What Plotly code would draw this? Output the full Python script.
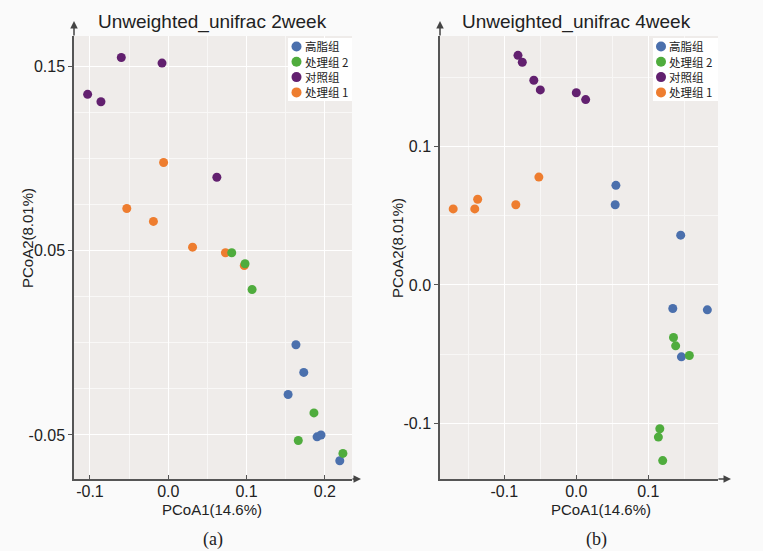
import plotly.graph_objects as go

W, H = 763, 551

# ---------------- data (2 week) ----------------
groups = ["高脂组", "处理组 2", "对照组", "处理组 1"]
colors = {"高脂组": "#4b70ad", "处理组 2": "#4fac3d", "对照组": "#62206f", "处理组 1": "#ee7d2f"}

hf2_x = [0.163, 0.173, 0.153, 0.190, 0.195, 0.219]
hf2_y = [-0.001, -0.016, -0.028, -0.051, -0.050, -0.064]
tr2_2_x = [0.081, 0.098, 0.107, 0.186, 0.166, 0.223]
tr2_2_y = [0.049, 0.043, 0.029, -0.038, -0.053, -0.060]
ctrl_2_x = [-0.060, -0.008, -0.103, -0.086, 0.062]
ctrl_2_y = [0.155, 0.152, 0.135, 0.131, 0.090]
tr1_2_x = [-0.006, -0.053, -0.019, 0.031, 0.073, 0.097]
tr1_2_y = [0.098, 0.073, 0.066, 0.052, 0.049, 0.042]

# ---------------- data (4 week) ----------------
hf4_x = [0.055, 0.054, 0.145, 0.134, 0.182, 0.146]
hf4_y = [0.072, 0.058, 0.036, -0.017, -0.018, -0.052]
tr2_4_x = [0.135, 0.138, 0.157, 0.116, 0.114, 0.120]
tr2_4_y = [-0.038, -0.044, -0.051, -0.104, -0.110, -0.127]
ctrl_4_x = [-0.081, -0.075, -0.059, -0.050, 0.000, 0.013]
ctrl_4_y = [0.166, 0.161, 0.148, 0.141, 0.139, 0.134]
tr1_4_x = [-0.052, -0.137, -0.141, -0.171, -0.084]
tr1_4_y = [0.078, 0.062, 0.055, 0.055, 0.058]

titles = ["Unweighted_unifrac 2week", "Unweighted_unifrac 4week"]
xlabel = "PCoA1(14.6%)"
ylabel = "PCoA2(8.01%)"
captions = ["(a)", "(b)"]

left_xticks = [-0.1, 0.0, 0.1, 0.2]
left_yticks = [-0.05, 0.05, 0.15]
right_xticks = [-0.1, 0.0, 0.1, 0.2]
right_yticks = [-0.1, 0.0, 0.1]

panel2 = {
    "处理组 1": (tr1_2_x, tr1_2_y),
    "对照组": (ctrl_2_x, ctrl_2_y),
    "高脂组": (hf2_x, hf2_y),
    "处理组 2": (tr2_2_x, tr2_2_y),
}
panel4 = {
    "处理组 1": (tr1_4_x, tr1_4_y),
    "对照组": (ctrl_4_x, ctrl_4_y),
    "高脂组": (hf4_x, hf4_y),
    "处理组 2": (tr2_4_x, tr2_4_y),
}

FONT = "Liberation Sans, Arial, sans-serif"
CJK = "Noto Sans CJK SC, sans-serif"

fig = go.Figure()
for name, (xs, ys) in panel2.items():
    fig.add_trace(go.Scatter(x=xs, y=ys, mode="markers", name=name, showlegend=False,
                             marker=dict(size=9, color=colors[name]), xaxis="x", yaxis="y"))
for name, (xs, ys) in panel4.items():
    fig.add_trace(go.Scatter(x=xs, y=ys, mode="markers", name=name, showlegend=False,
                             marker=dict(size=9, color=colors[name]), xaxis="x2", yaxis="y2"))

def px(x):
    return x / W

def py(y):
    return 1 - y / H

ydom = [py(479), py(36)]
axis_common = dict(showline=True, linecolor="#555555", linewidth=1.5,
                   ticklen=4, tickcolor="#555555", gridcolor="#ffffff", gridwidth=1.3,
                   zeroline=False, tickfont=dict(family=FONT, size=16, color="#222222"),
                   fixedrange=True)

fig.update_layout(
    width=W, height=H, autosize=False,
    margin=dict(l=0, r=0, t=0, b=0),
    paper_bgcolor="#fafafa", plot_bgcolor="#efecea",
    xaxis=dict(domain=[px(74), px(352)], range=[-0.1204, 0.2346], anchor="y", ticks="inside",
               tickvals=left_xticks, ticktext=["-0.1", "0.0", "0.1", "0.2"], ticklabelstandoff=-3,
               minor=dict(tickvals=[-0.05, 0.05, 0.15], showgrid=True, gridcolor="#f8f7f6",
                          gridwidth=1, ticks=""),
               **axis_common),
    yaxis=dict(domain=ydom, range=[-0.0739, 0.1667], anchor="x", ticks="outside",
               tickvals=left_yticks, ticktext=["-0.05", "0.05", "0.15"],
               minor=dict(tickvals=[-0.025, 0.0, 0.025, 0.075, 0.1, 0.125], showgrid=True,
                          gridcolor="#f9f8f7", gridwidth=1, ticks=""),
               **axis_common),
    xaxis2=dict(domain=[px(440), px(718)], range=[-0.1893, 0.1968], anchor="y2", ticks="inside",
                tickvals=right_xticks, ticktext=["-0.1", "0.0", "0.1", "0.2"], ticklabelstandoff=-3,
                minor=dict(tickvals=[-0.15, -0.05, 0.05, 0.15], showgrid=True, gridcolor="#f8f7f6",
                           gridwidth=1, ticks=""),
                **axis_common),
    yaxis2=dict(domain=ydom, range=[-0.1403, 0.180], anchor="x2", ticks="outside",
                tickvals=right_yticks, ticktext=["-0.1", "0.0", "0.1"],
                minor=dict(tickvals=[-0.05, 0.05, 0.15], showgrid=True, gridcolor="#f8f7f6",
                           gridwidth=1, ticks=""),
                **axis_common),
)

ann = []
shapes = []
# titles
for t, cx in zip(titles, [212, 576]):
    ann.append(dict(text=t, x=px(cx), y=py(22), xref="paper", yref="paper", showarrow=False,
                    xanchor="center", yanchor="middle", font=dict(family=FONT, size=19, color="#222222")))
# x axis titles
for cx in [212, 601]:
    ann.append(dict(text=xlabel, x=px(cx), y=py(510), xref="paper", yref="paper", showarrow=False,
                    xanchor="center", yanchor="middle", font=dict(family=FONT, size=15, color="#222222")))
# y axis titles
for cx, cy in [(27, 238), (397, 248)]:
    ann.append(dict(text=ylabel, x=px(cx), y=py(cy), xref="paper", yref="paper", showarrow=False,
                    textangle=-90, xanchor="center", yanchor="middle",
                    font=dict(family=FONT, size=15, color="#222222")))
# captions
for c, cx in zip(captions, [213, 596]):
    ann.append(dict(text=c, x=px(cx), y=py(539), xref="paper", yref="paper", showarrow=False,
                    xanchor="center", yanchor="middle",
                    font=dict(family="Liberation Serif, DejaVu Serif, serif", size=18, color="#222222")))
# arrows on axes
for (tx, ty, ax_, ay_) in [(74, 21, 0, 16), (361, 479, -10, 0), (440, 21, 0, 16), (731, 479, -14, 0)]:
    ann.append(dict(text="", x=px(tx), y=py(ty), xref="paper", yref="paper", showarrow=True,
                    ax=ax_, ay=ay_, arrowhead=2, arrowsize=1, arrowwidth=1.5, arrowcolor="#444444",
                    standoff=0, startstandoff=0))
# legends (one white box per panel, a dot and a label per group)
legend_order = ["高脂组", "处理组 2", "对照组", "处理组 1"]
row_y = [46.5, 61.8, 77.1, 92.4]
for (bx0, bx1, dotx, textx) in [(288, 352, 296.5, 302.5), (653, 718, 661, 667)]:
    shapes.append(dict(type="rect", xref="paper", yref="paper", x0=px(bx0), x1=px(bx1),
                       y0=py(101), y1=py(38), fillcolor="#ffffff", line=dict(width=0), layer="above"))
    for g, ry in zip(legend_order, row_y):
        shapes.append(dict(type="circle", xref="paper", yref="paper",
                           x0=px(dotx - 5), x1=px(dotx + 5), y0=py(ry + 5), y1=py(ry - 5),
                           fillcolor=colors[g], line=dict(width=0), layer="above"))
        ann.append(dict(text=g, x=px(textx), y=py(ry), xref="paper", yref="paper", showarrow=False,
                        xanchor="left", yanchor="middle",
                        font=dict(family=CJK, size=11.5, color="#222222")))

fig.update_layout(annotations=ann, shapes=shapes)

fig.write_html("out.html")
